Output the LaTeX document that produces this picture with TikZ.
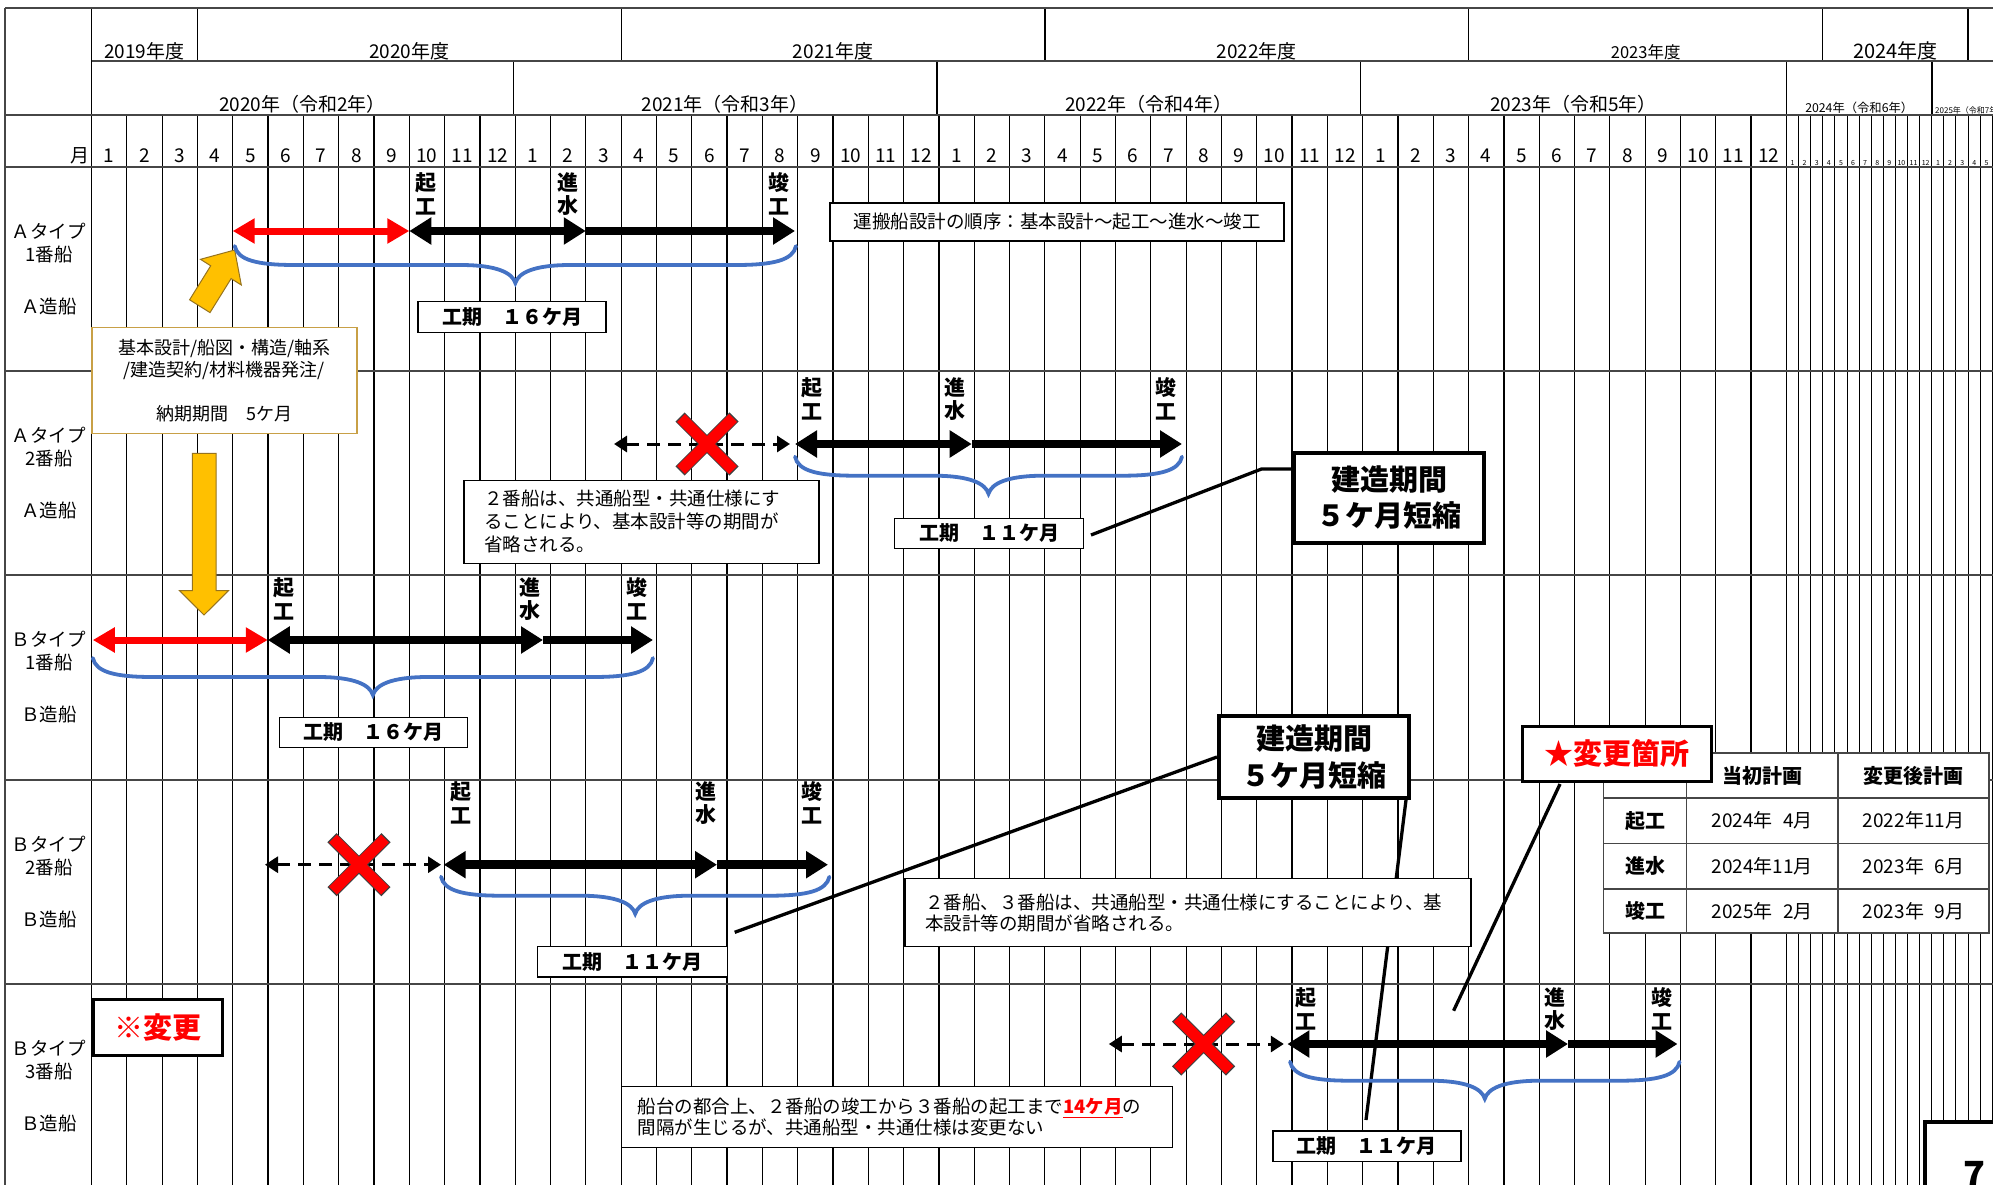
\documentclass[tikz,border=0pt]{standalone}
\usepackage{fontspec}
\setmainfont{Noto Sans CJK JP}
\usetikzlibrary{arrows.meta}
\definecolor{bracec}{RGB}{68,114,196}
\definecolor{orangec}{RGB}{255,192,0}
\definecolor{orangeline}{RGB}{150,115,30}
\definecolor{goldline}{RGB}{200,160,70}
\definecolor{gridc}{RGB}{70,70,70}
\newcommand\fsz[1]{\fontsize{#1}{#1}\selectfont}
\newcommand\gbrace[3]{%
 \pgfmathsetmacro\bxm{(#1+#2)/2}%
 \draw[bracestyle] (#1,#3) .. controls ({#1+3},{#3+14}) and ({#1+22},{#3+19}) .. ({#1+60},{#3+19}) -- ({\bxm-55},{#3+19}) .. controls ({\bxm-18},{#3+19}) and ({\bxm-3},{#3+27}) .. (\bxm,{#3+37}) .. controls ({\bxm+3},{#3+27}) and ({\bxm+18},{#3+19}) .. ({\bxm+55},{#3+19}) -- ({#2-60},{#3+19}) .. controls ({#2-22},{#3+19}) and ({#2-3},{#3+14}) .. (#2,#3);}
\newcommand\redx[2]{%
 \begin{scope}[shift={(#1,#2)}]
 \draw[line width=13pt,black!75] (-27,-27) -- (27,27) (-27,27) -- (27,-27);
 \draw[line width=11pt,red] (-26,-26) -- (26,26) (-26,26) -- (26,-26);
 \end{scope}}
\begin{document}
\begin{tikzpicture}[x=1pt,y=-1pt,
 mline/.style={line width=1.2pt,draw=black},
 sline/.style={line width=0.9pt,draw=black},
 hline/.style={line width=1.8pt,draw=gridc},
 tx/.style={inner sep=0pt},
 hdr/.style={tx,anchor=base,font=\fsz{19}},
 tinyt/.style={tx,anchor=base,font=\fsz{7}},
 rowlbl/.style={tx,font=\fsz{18.5}},
 msl/.style={tx,align=center,font=\fontsize{21}{23.5}\selectfont\bfseries},
 redbar/.style={draw=red,line width=7pt,>={Triangle[length=22pt,width=24pt]}},
 blackbar/.style={draw=black,line width=8.5pt,>={Triangle[length=22pt,width=26pt]}},
 dashbar/.style={draw=black,line width=3pt,dash pattern=on 13pt off 8pt,>={Triangle[length=13pt,width=16pt]}},
 bracestyle/.style={draw=bracec,line width=3.8pt,line cap=round},
 thinbox/.style={draw=black,line width=1.3pt,fill=white,inner sep=0pt},
 kbox/.style={thinbox,minimum height=30.5,font=\fsz{20}\bfseries},
 tbox/.style={draw=black,line width=4pt,fill=white,inner sep=0pt,align=center,font=\fontsize{29}{36}\selectfont\bfseries},
 rbox/.style={draw=black,line width=3pt,fill=white,inner sep=0pt,font=\fsz{29}\bfseries,text=red},
 cbox/.style={thinbox,align=left},
 callout/.style={line width=3.3pt,draw=black},
 tline/.style={line width=1.5pt,draw=gridc},
 tcell/.style={tx,font=\fsz{19}},
 thead/.style={tx,font=\fsz{20}\bfseries},
 arrowshape/.style={fill=orangec,draw=orangeline,line width=1pt,line join=miter}
]
\useasboundingbox (0,0) rectangle (1993,1185);
% ---------- grid ----------
\foreach \k in {1,...,48} \draw[mline] ({91.5+35.31*\k},115) -- ({91.5+35.31*\k},1185);
\foreach \i in {1,...,17} \draw[sline] ({1786.5+12.1*\i},115) -- ({1786.5+12.1*\i},1185);
\foreach \xx in {513.2,936.9,1360.6,1786.5,1932} \draw[mline] (\xx,61) -- (\xx,115);
\foreach \xx in {197.4,621.2,1044.9,1468.6,1822.8,1968} \draw[mline] (\xx,8) -- (\xx,61);
\draw[hline] (5,8) -- (5,1185);
\draw[mline] (91.5,8) -- (91.5,1185);
\draw[hline] (5,8) -- (1993,8);
\draw[hline] (91.5,61) -- (1993,61);
\foreach \yy in {115,167,371,575,780,984} \draw[hline] (5,\yy) -- (1993,\yy);
% ---------- header texts ----------
\node[hdr] (fy19) at (144.3,58.5) {2019年度};
\node[hdr] (fy20) at (409.3,58.5) {2020年度};
\node[hdr] (fy21) at (833,58.5) {2021年度};
\node[hdr] (fy22) at (1256.8,58.5) {2022年度};
\node[hdr,font=\fsz{16.5}] (fy23) at (1645.7,58.5) {2023年度};
\node[hdr,font=\fsz{20}] (fy24) at (1895.4,58.5) {2024年度};
\node[hdr] (y20) at (302.4,111.5) {2020年（令和2年）};
\node[hdr] (y21) at (725,111.5) {2021年（令和3年）};
\node[hdr] (y22) at (1148.7,111.5) {2022年（令和4年）};
\node[hdr] (y23) at (1573.5,111.5) {2023年（令和5年）};
\node[hdr,font=\fsz{12.3}] (y24) at (1859.2,112.3) {2024年（令和6年）};
\node[tinyt,anchor=base west,font=\fsz{8}] (y25) at (1935,113.3) {2025年（令和7年）};
\node[hdr,anchor=base east] (tsuki) at (89.5,163) {月};
\foreach \k in {0,...,47}{\pgfmathtruncatemacro\mm{mod(\k,12)+1}\node[hdr] (mn\k) at ({91.5+35.31*(\k+0.5)},163) {\mm};}
\foreach \i in {0,...,11}{\pgfmathtruncatemacro\mm{\i+1}\node[tinyt] (sa\i) at ({1786.5+12.1*(\i+0.5)},165.5) {\mm};}
\foreach \i in {0,...,4}{\pgfmathtruncatemacro\mm{\i+1}\node[tinyt] (sb\i) at ({1932+12.1*(\i+0.5)},165.5) {\mm};}
% ---------- row labels ----------
\foreach \T/\a/\b/\c/\n in {167/Ａタイプ/1番船/Ａ造船/1,371/Ａタイプ/2番船/Ａ造船/2,575/Ｂタイプ/1番船/Ｂ造船/3,780/Ｂタイプ/2番船/Ｂ造船/4,984/Ｂタイプ/3番船/Ｂ造船/5}{
 \node[rowlbl] (la\n) at (49,{\T+64.3}) {\a};
 \node[rowlbl] (lb\n) at (49,{\T+87}) {\b};
 \node[rowlbl] (lc\n) at (49,{\T+139.3}) {\c};
}
% ---------- callout lines ----------
\coordinate (c2a) at (1091,535);
\coordinate (c2b) at (1261.5,469);
\coordinate (c4a) at (734.7,932.3);
\coordinate (c4b) at (1366,1120);
\coordinate (s1) at (1560,784);
\coordinate (s2) at (1453.6,1010.7);
\node[tbox,minimum width=190,minimum height=90] (tan1) at (1389,497.7) {建造期間\\５ケ月短縮};
\node[tbox,minimum width=190,minimum height=82] (tan2) at (1314,757) {建造期間\\５ケ月短縮};
\draw[callout] (c2a) -- (c2b) -- (tan1.west |- c2b);
\draw[callout] (c4a) -- (tan2.west);
\draw[callout] ([xshift=-5pt]tan2.south east) -- (c4b);
\draw[callout] (s1) -- (s2);
\node[tbox,minimum width=190,minimum height=90] at (tan1) {建造期間\\５ケ月短縮};
\node[tbox,minimum width=190,minimum height=82] at (tan2) {建造期間\\５ケ月短縮};
% ---------- boxes ----------
\node[draw=goldline,line width=1.5pt,fill=white,minimum width=265,minimum height=105.6,align=center,font=\fontsize{18}{22.2}\selectfont,inner sep=0pt] (kihon) at (224.4,380.5) {基本設計/船図・構造/軸系\\/建造契約/材料機器発注/\\[22.2pt]納期期間　5ケ月};
\node[thinbox,line width=1.8pt,minimum width=454,minimum height=38,font=\fsz{18.5}] (order) at (1057,221.7) {運搬船設計の順序：基本設計～起工～進水～竣工};
\node[kbox,minimum width=188] (k1) at (512,317) {工期　１６ケ月};
\node[kbox,minimum width=189] (k2) at (989.3,533.5) {工期　１１ケ月};
\node[kbox,minimum width=188] (k3) at (373.6,732.5) {工期　１６ケ月};
\node[kbox,minimum width=190] (k4) at (632.8,961.7) {工期　１１ケ月};
\node[kbox,minimum width=188] (k5) at (1366.9,1146.3) {工期　１１ケ月};
\node[cbox,text width=315,inner xsep=20pt,minimum height=83,font=\fontsize{18.5}{23}\selectfont] (cm2) at (641.5,521.7) {２番船は、共通船型・共通仕様にす\\ることにより、基本設計等の期間が\\省略される。};
\node[cbox,text width=526,inner xsep=20pt,minimum height=68,font=\fontsize{18.5}{21.6}\selectfont] (cm4) at (1188,912.8) {２番船、３番船は、共通船型・共通仕様にすることにより、基\\本設計等の期間が省略される。};
\node[cbox,text width=519,inner xsep=16pt,minimum height=60.6,font=\fontsize{18.5}{21}\selectfont] (cm5) at (897.3,1117) {船台の都合上、２番船の竣工から３番船の起工まで\textcolor{red}{\bfseries\underline{14ケ月}}の\\間隔が生じるが、共通船型・共通仕様は変更ない};
\node[rbox,minimum width=129,minimum height=56] (henko) at (157.5,1027) {※変更};
% ---------- table ----------
\fill[white] (1603.4,753) rectangle (1989,933);
\draw[tline] (1603.4,753) rectangle (1989,933);
\foreach \yy in {798,843.5,889} \draw[tline] (1603.4,\yy) -- (1989,\yy);
\foreach \xx in {1686.5,1837.9} \draw[tline] (\xx,753) -- (\xx,933);
\node[thead] (th1) at (1762.2,775.5) {当初計画};
\node[thead] (th2) at (1913.5,775.5) {変更後計画};
\node[thead] (tr1) at (1645,820.7) {起工};
\node[thead] (tr2) at (1645,866.2) {進水};
\node[thead] (tr3) at (1645,911) {竣工};
\node[tcell] (v11) at (1762.2,820.7) {2024年\hphantom{1}4月};
\node[tcell] (v12) at (1913.5,820.7) {2022年11月};
\node[tcell] (v21) at (1762.2,866.2) {2024年11月};
\node[tcell] (v22) at (1913.5,866.2) {2023年\hphantom{1}6月};
\node[tcell] (v31) at (1762.2,911) {2025年\hphantom{1}2月};
\node[tcell] (v32) at (1913.5,911) {2023年\hphantom{1}9月};
\node[rbox,minimum width=189,minimum height=55] (chg) at (1617.4,753.5) {★変更箇所};
% page number box
\fill[white] (1925,1121.7) rectangle (2010,1200);
\draw[line width=4pt] (1925,1200) -- (1925,1121.7) -- (2010,1121.7);
\node[tx,anchor=base,font=\fsz{36}\bfseries] (pg) at (1974,1187) {7};
% ---------- orange arrows ----------
\draw[arrowshape] (234.7,250) -- (241.3,285) -- (231.1,278.6) -- (210,312.6) -- (189.6,299.8) -- (210.7,265.8) -- (200.5,259.3) -- cycle;
\draw[arrowshape] (192.3,453.3) -- (216.2,453.3) -- (216.2,590.7) -- (228.5,590.7) -- (204,615) -- (179.5,590.7) -- (192.3,590.7) -- cycle;
% ---------- row 1 ----------
\coordinate (r1a) at (232.7,231); \coordinate (r1b) at (409.3,231); \coordinate (r1c) at (585.8,231); \coordinate (r1d) at (795,231);
\draw[redbar,<->] (r1a) -- (r1b);
\draw[blackbar,<->] (r1b) -- (r1c);
\draw[blackbar,->] (r1c) -- (r1d);
\gbrace{234.7}{796}{246}
\node[msl] (m1a) at (426,194) {起\\工};
\node[msl] (m1b) at (568,194) {進\\水};
\node[msl] (m1c) at (779,194) {竣\\工};
% ---------- row 2 ----------
\coordinate (r2s) at (614,444); \coordinate (r2e) at (790,444);
\coordinate (r2a) at (795,444); \coordinate (r2b) at (971.7,444); \coordinate (r2c) at (1182,444);
\draw[dashbar,<->] (r2s) -- (r2e);
\draw[blackbar,<->] (r2a) -- (r2b);
\draw[blackbar,->] (r2b) -- (r2c);
\redx{707}{444}
\gbrace{795}{1182}{456.7}
\node[msl] (m2a) at (812,399) {起\\工};
\node[msl] (m2b) at (955,399) {進\\水};
\node[msl] (m2c) at (1166,399) {竣\\工};
% ---------- row 3 ----------
\coordinate (r3a) at (92.8,640); \coordinate (r3b) at (267.8,640); \coordinate (r3c) at (543,640); \coordinate (r3d) at (653,640);
\draw[redbar,<->] (r3a) -- (r3b);
\draw[blackbar,<->] (r3b) -- (r3c);
\draw[blackbar,->] (r3c) -- (r3d);
\gbrace{92.8}{653}{658}
\node[msl] (m3a) at (284,599) {起\\工};
\node[msl] (m3b) at (530,599) {進\\水};
\node[msl] (m3c) at (637,599) {竣\\工};
% ---------- row 4 ----------
\coordinate (r4s) at (265,864.7); \coordinate (r4e) at (441,864.7);
\coordinate (r4a) at (443.7,864.7); \coordinate (r4b) at (717,864.7); \coordinate (r4c) at (828,864.7);
\draw[dashbar,<->] (r4s) -- (r4e);
\draw[blackbar,<->] (r4a) -- (r4b);
\draw[blackbar,->] (r4b) -- (r4c);
\redx{359}{864.7}
\gbrace{441}{829.4}{876.7}
\node[msl] (m4a) at (461,803) {起\\工};
\node[msl] (m4b) at (706,803) {進\\水};
\node[msl] (m4c) at (812,803) {竣\\工};
% ---------- row 5 ----------
\coordinate (r5s) at (1108.8,1044); \coordinate (r5e) at (1283.8,1044);
\coordinate (r5a) at (1287.4,1044); \coordinate (r5b) at (1568,1044); \coordinate (r5c) at (1677.5,1044);
\draw[dashbar,<->] (r5s) -- (r5e);
\draw[blackbar,<->] (r5a) -- (r5b);
\draw[blackbar,->] (r5b) -- (r5c);
\redx{1203.6}{1044}
\gbrace{1290}{1679.6}{1061.7}
\node[msl] (m5a) at (1306,1009) {起\\工};
\node[msl] (m5b) at (1555,1009) {進\\水};
\node[msl] (m5c) at (1661.5,1009) {竣\\工};
\end{tikzpicture}
\end{document}
